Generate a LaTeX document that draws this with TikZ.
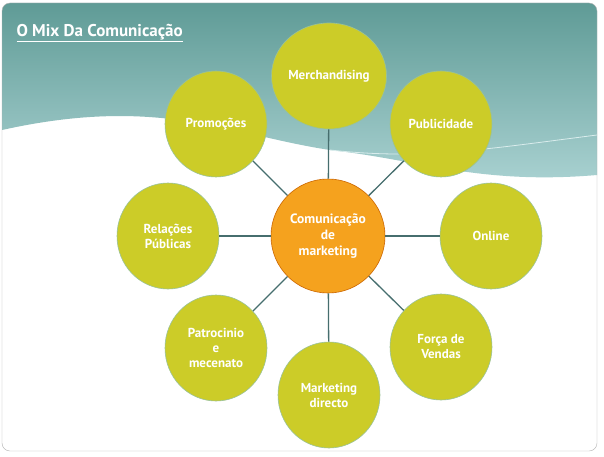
\documentclass[tikz,border=0pt]{standalone}
\usepackage{fontspec}
\setmainfont{PT Sans}
\usetikzlibrary{shapes.geometric}
\begin{document}
\begin{tikzpicture}[x=1pt,y=-1pt,
  sat/.style={ellipse,draw=black!60!green!40,line width=0.6pt,fill=satfill,minimum width=102pt,minimum height=106pt,inner sep=0pt,align=center,text=white,font=\bfseries\fontsize{13}{15}\selectfont},
  ctr/.style={circle,draw=orange!80!black,line width=0.6pt,fill=ctrfill,minimum size=114pt,inner sep=0pt,align=center,text=white,font=\bfseries\fontsize{13.5}{16}\selectfont},
  link/.style={draw=linkc,line width=1.3pt}]
\definecolor{satfill}{RGB}{204,204,40}
\definecolor{ctrfill}{RGB}{245,162,30}
\definecolor{linkc}{RGB}{70,110,110}
\definecolor{tealA}{RGB}{95,155,150}
\definecolor{tealB}{RGB}{170,210,210}
\useasboundingbox (0,0) rectangle (604,457);
\fill[white] (0,0) rectangle (604,457);
\begin{scope}
\clip[rounded corners=8pt] (2,3) rectangle (597,451);
\shade[top color=tealA,bottom color=tealB] (2,3) -- (597,3) -- (597,175) .. controls (480,185) and (420,160) .. (330,150) .. controls (230,135) and (160,95) .. (2,130) -- cycle;
\draw[white!85!teal,line width=0.8pt] (330,150) .. controls (420,160) and (480,150) .. (597,135);
\end{scope}
\draw[gray!60,rounded corners=8pt] (2,3) rectangle (597,451);
\node[anchor=west,text=white,font=\bfseries\fontsize{17}{18}\selectfont] (title) at (13,33) {\underline{O Mix Da Comunicação}};
\node[ctr] (c) at (328,236) {Comunicação\\de\\marketing};
\node[sat] (m) at (329,76) {Merchandising};
\node[sat] (pu) at (441,124) {Publicidade};
\node[sat] (on) at (491,236) {Online};
\node[sat] (fv) at (441,347) {Força de\\Vendas};
\node[sat] (md) at (329,395) {Marketing\\directo};
\node[sat] (pa) at (216,348) {Patrocinio\\e\\mecenato};
\node[sat] (rp) at (168,236) {Relações\\Públicas};
\node[sat] (pr) at (216,124) {Promoções};
\foreach \n in {m,pu,on,fv,md,pa,rp,pr} \draw[link] (c) -- (\n);
\end{tikzpicture}
\end{document}
